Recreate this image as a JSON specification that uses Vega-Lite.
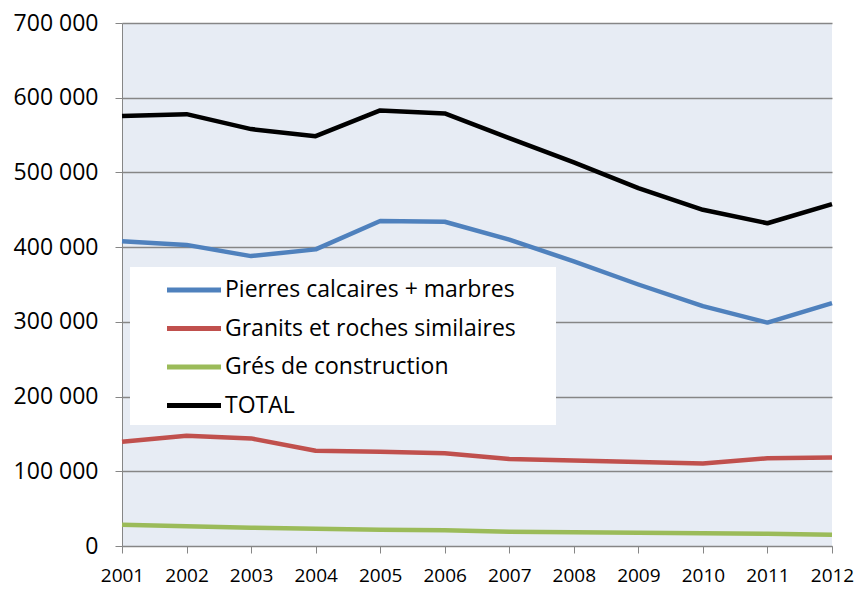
{
  "$schema": "https://vega.github.io/schema/vega-lite/v6.json",
  "width": 710,
  "height": 523,
  "autosize": {"type": "none"},
  "padding": {"left": 122, "top": 23, "right": 28, "bottom": 46},
  "background": "white",
  "config": {
    "font": "Open Sans",
    "view": {"fill": "#E7ECF4", "stroke": null}
  },
  "data": {
    "values": [
      {"year": "2001", "serie": "Pierres calcaires + marbres", "value": 408000},
      {"year": "2002", "serie": "Pierres calcaires + marbres", "value": 403000},
      {"year": "2003", "serie": "Pierres calcaires + marbres", "value": 388000},
      {"year": "2004", "serie": "Pierres calcaires + marbres", "value": 397000},
      {"year": "2005", "serie": "Pierres calcaires + marbres", "value": 435000},
      {"year": "2006", "serie": "Pierres calcaires + marbres", "value": 434000},
      {"year": "2007", "serie": "Pierres calcaires + marbres", "value": 410000},
      {"year": "2008", "serie": "Pierres calcaires + marbres", "value": 381000},
      {"year": "2009", "serie": "Pierres calcaires + marbres", "value": 350000},
      {"year": "2010", "serie": "Pierres calcaires + marbres", "value": 321000},
      {"year": "2011", "serie": "Pierres calcaires + marbres", "value": 299000},
      {"year": "2012", "serie": "Pierres calcaires + marbres", "value": 325000},
      {"year": "2001", "serie": "Granits et roches similaires", "value": 139500},
      {"year": "2002", "serie": "Granits et roches similaires", "value": 147500},
      {"year": "2003", "serie": "Granits et roches similaires", "value": 144000},
      {"year": "2004", "serie": "Granits et roches similaires", "value": 127500},
      {"year": "2005", "serie": "Granits et roches similaires", "value": 126000},
      {"year": "2006", "serie": "Granits et roches similaires", "value": 124000},
      {"year": "2007", "serie": "Granits et roches similaires", "value": 116500},
      {"year": "2008", "serie": "Granits et roches similaires", "value": 114500},
      {"year": "2009", "serie": "Granits et roches similaires", "value": 112500},
      {"year": "2010", "serie": "Granits et roches similaires", "value": 110500},
      {"year": "2011", "serie": "Granits et roches similaires", "value": 117500},
      {"year": "2012", "serie": "Granits et roches similaires", "value": 118500},
      {"year": "2001", "serie": "Grés de construction", "value": 28500},
      {"year": "2002", "serie": "Grés de construction", "value": 26300},
      {"year": "2003", "serie": "Grés de construction", "value": 24500},
      {"year": "2004", "serie": "Grés de construction", "value": 23200},
      {"year": "2005", "serie": "Grés de construction", "value": 21800},
      {"year": "2006", "serie": "Grés de construction", "value": 21000},
      {"year": "2007", "serie": "Grés de construction", "value": 19100},
      {"year": "2008", "serie": "Grés de construction", "value": 18300},
      {"year": "2009", "serie": "Grés de construction", "value": 17800},
      {"year": "2010", "serie": "Grés de construction", "value": 17000},
      {"year": "2011", "serie": "Grés de construction", "value": 16500},
      {"year": "2012", "serie": "Grés de construction", "value": 15100},
      {"year": "2001", "serie": "TOTAL", "value": 575500},
      {"year": "2002", "serie": "TOTAL", "value": 578000},
      {"year": "2003", "serie": "TOTAL", "value": 558000},
      {"year": "2004", "serie": "TOTAL", "value": 548500},
      {"year": "2005", "serie": "TOTAL", "value": 583000},
      {"year": "2006", "serie": "TOTAL", "value": 579000},
      {"year": "2007", "serie": "TOTAL", "value": 546000},
      {"year": "2008", "serie": "TOTAL", "value": 513500},
      {"year": "2009", "serie": "TOTAL", "value": 479000},
      {"year": "2010", "serie": "TOTAL", "value": 450000},
      {"year": "2011", "serie": "TOTAL", "value": 432000},
      {"year": "2012", "serie": "TOTAL", "value": 457700}
    ]
  },
  "mark": {"type": "line", "strokeWidth": 4.5, "strokeJoin": "round"},
  "encoding": {
    "x": {
      "field": "year",
      "type": "ordinal",
      "scale": {"type": "point", "padding": 0},
      "axis": {
        "title": null,
        "labelAngle": 0,
        "labelFontSize": 19,
        "labelColor": "#000000",
        "labelPadding": 13,
        "tickSize": 7,
        "tickColor": "#868686",
        "domainColor": "#868686",
        "grid": false
      }
    },
    "y": {
      "field": "value",
      "type": "quantitative",
      "scale": {"domain": [0, 700000], "nice": false},
      "axis": {
        "title": null,
        "values": [0, 100000, 200000, 300000, 400000, 500000, 600000, 700000],
        "labelExpr": "replace(format(datum.value, ','), ',', ' ')",
        "labelFontSize": 23,
        "labelColor": "#000000",
        "labelPadding": 17,
        "tickSize": 7,
        "tickColor": "#868686",
        "domainColor": "#868686",
        "gridColor": "#868686",
        "gridWidth": 1.5,
        "gridOpacity": 1
      }
    },
    "color": {
      "field": "serie",
      "type": "nominal",
      "sort": ["Pierres calcaires + marbres", "Granits et roches similaires", "Grés de construction", "TOTAL"],
      "scale": {
        "domain": ["Pierres calcaires + marbres", "Granits et roches similaires", "Grés de construction", "TOTAL"],
        "range": ["#4F81BD", "#C0504D", "#9BBB59", "#000000"]
      },
      "legend": {
        "title": "\u00a0",
        "titleOrient": "right",
        "titleFontSize": 23,
        "titlePadding": 33,
        "orient": "none",
        "legendX": 8,
        "legendY": 244,
        "fillColor": "white",
        "strokeColor": null,
        "padding": 7,
        "symbolOffset": 41,
        "symbolType": "M-2,0H2",
        "symbolSize": 729,
        "symbolStrokeWidth": 5,
        "symbolStrokeCap": "round",
        "labelFontSize": 23,
        "labelColor": "#000000",
        "labelOffset": 15,
        "labelLimit": 400,
        "rowPadding": 10.5
      }
    }
  }
}
